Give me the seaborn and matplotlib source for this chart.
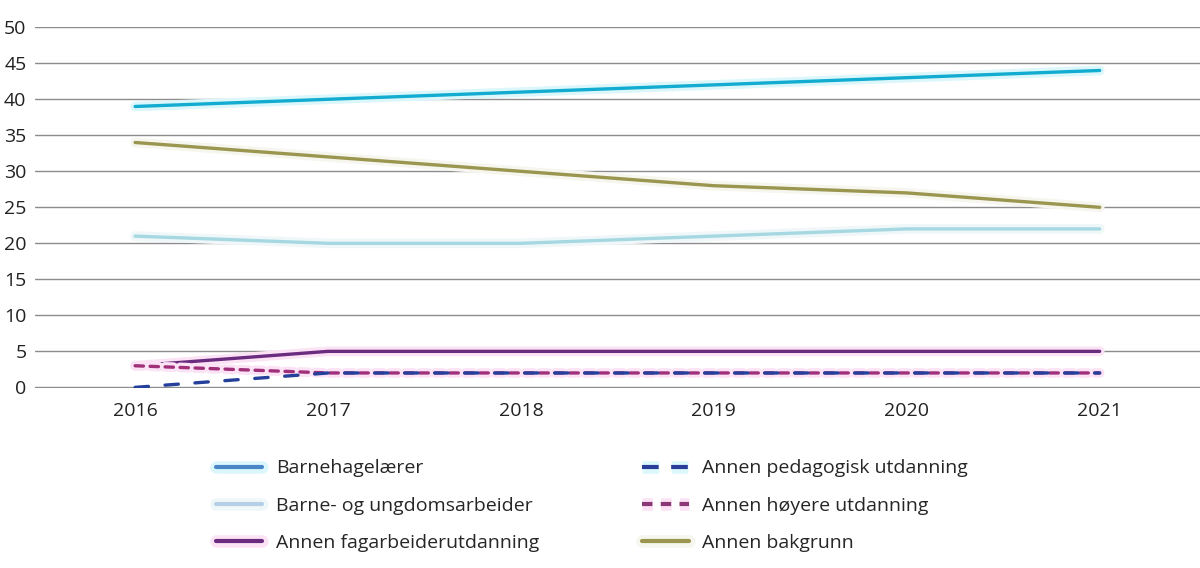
import pandas as pd
import numpy as np
import matplotlib.pyplot as plt
import matplotlib.patheffects as pe
from matplotlib.lines import Line2D
import seaborn as sns

# ── Data ───────────────────────────────────────────────────
years = [2016, 2017, 2018, 2019, 2020, 2021]
series_names = ['Barnehagelærer', 'Barne- og ungdomsarbeider', 'Annen fagarbeiderutdanning',
                'Annen pedagogisk utdanning', 'Annen høyere utdanning', 'Annen bakgrunn']
barnehagelaerer = [39, 40, 41, 42, 43, 44]
barne_ungdom = [21, 20, 20, 21, 22, 22]
fagarbeider = [3, 5, 5, 5, 5, 5]
pedagogisk = [0, 2, 2, 2, 2, 2]
hoyere = [3, 2, 2, 2, 2, 2]
bakgrunn = [34, 32, 30, 28, 27, 25]
y_ticks = [0, 5, 10, 15, 20, 25, 30, 35, 40, 45, 50]

df = pd.DataFrame({
    'year': years * 6,
    'value': barnehagelaerer + barne_ungdom + fagarbeider + pedagogisk + hoyere + bakgrunn,
    'serie': [s for s in series_names for _ in years],
})

line_colors = {'Barnehagelærer': '#12acd0', 'Barne- og ungdomsarbeider': '#a6d8e2',
               'Annen fagarbeiderutdanning': '#6b2c80', 'Annen pedagogisk utdanning': '#24409a',
               'Annen høyere utdanning': '#a03079', 'Annen bakgrunn': '#9a9650'}
legend_colors = {'Barnehagelærer': '#4a86c8', 'Barne- og ungdomsarbeider': '#b5cfe6',
                 'Annen fagarbeiderutdanning': '#6b2c80', 'Annen pedagogisk utdanning': '#283e98',
                 'Annen høyere utdanning': '#8c3778', 'Annen bakgrunn': '#9a9650'}
halo = {'Barnehagelærer': '#dcf7fb', 'Barne- og ungdomsarbeider': '#f0f7f9',
        'Annen fagarbeiderutdanning': '#fbe3f5', 'Annen pedagogisk utdanning': '#dcf8fb',
        'Annen høyere utdanning': '#fbe3f5', 'Annen bakgrunn': '#f6f6ee'}
dashes = {'Barnehagelærer': '', 'Barne- og ungdomsarbeider': '',
          'Annen fagarbeiderutdanning': '', 'Annen pedagogisk utdanning': (4, 5),
          'Annen høyere utdanning': (2.5, 2), 'Annen bakgrunn': ''}

sns.set_style('white')
plt.rcParams['font.family'] = ['Open Sans', 'DejaVu Sans']

fig = plt.figure(figsize=(12, 5.68), dpi=100)
ax = fig.add_axes([0.029, 0.317, 0.971, 0.635])

ax.set_yticks(y_ticks)
ax.grid(axis='y', color='#8c8c8c', linewidth=1)
ax.set_axisbelow(True)

sns.lineplot(data=df, x='year', y='value', hue='serie', style='serie',
             palette=line_colors, dashes=dashes, hue_order=series_names,
             style_order=series_names, linewidth=2.4, ax=ax, legend=False)

for line, name in zip(ax.get_lines(), series_names):
    if name == 'Annen pedagogisk utdanning':
        line.set_zorder(5)
        line.set_path_effects([pe.Normal()])
    else:
        line.set_path_effects([pe.Stroke(linewidth=7, foreground=halo[name]), pe.Normal()])
    line.set_solid_capstyle('round')
    line.set_dash_capstyle('round')

ax.set_xlim(2015.48, 2021.52)
ax.set_ylim(-0.08, 50)
ax.set_xticks(years)
ax.set_xlabel('')
ax.set_ylabel('')
ax.tick_params(axis='both', length=0, labelsize=14, colors='#222222')
ax.tick_params(axis='x', pad=10)
ax.tick_params(axis='y', pad=6)
for s in ax.spines.values():
    s.set_visible(False)

# ── Legend ─────────────────────────────────────────────────
handles = []
for n in series_names:
    ls = '-' if dashes[n] == '' else (0, (4, 3) if n == 'Annen pedagogisk utdanning' else dashes[n])
    h = Line2D([], [], color=legend_colors[n], linewidth=3, linestyle=ls,
               path_effects=[pe.Stroke(linewidth=9, foreground=halo[n]), pe.Normal()])
    handles.append(h)
fig.legend(handles, series_names, ncol=2, frameon=False,
           loc='upper left', bbox_to_anchor=(0.165, 0.222), fontsize=14,
           handlelength=2.4, handletextpad=0.7, labelspacing=1.0, columnspacing=5.3)

plt.savefig('out.png', dpi=100)
